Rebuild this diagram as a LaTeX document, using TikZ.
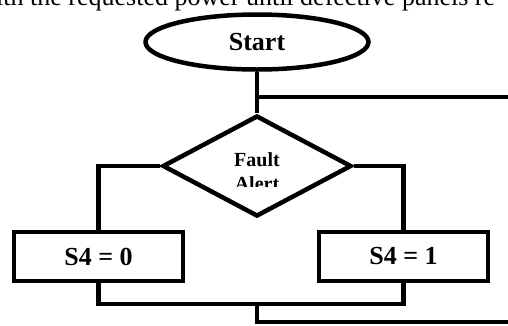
\documentclass[tikz,border=0pt]{standalone}
\usepackage{fontspec}
\setmainfont{Liberation Serif}
\usetikzlibrary{shapes.geometric}
\begin{document}
\begin{tikzpicture}[x=1pt,y=-1pt,
  flow/.style={line width=4.5pt},
  term/.style={ellipse,draw,line width=4.5pt,inner sep=0pt,minimum width=223pt,minimum height=55pt,font=\fontsize{26}{28}\selectfont\bfseries},
  decide/.style={diamond,draw,line width=4.5pt,inner sep=0pt,minimum width=189pt,minimum height=101pt},
  act/.style={rectangle,draw,line width=4.5pt,inner sep=0pt,minimum width=169pt,minimum height=49pt,font=\fontsize{26}{28}\selectfont\bfseries},
  lbl/.style={inner sep=0pt,font=\fontsize{20}{24}\selectfont\bfseries}]
\useasboundingbox (0,0) rectangle (508,325);
\begin{scope}
\clip (0,0) rectangle (508,325);
\node[anchor=base west,inner sep=0pt,font=\fontsize{26}{28}\selectfont] (cap) at (-4,5) {ith the requested power until defective panels re};
\node[term] (start) at (257,42) {Start};
\node[decide] (alert) at (257,166) {};
\begin{scope}
\clip (150,140) rectangle (360,186);
\node[lbl,anchor=base] (fault) at (257,166) {Fault};
\node[lbl,anchor=base] (alerttxt) at (257,190) {Alert};
\end{scope}
\node[act] (s0) at (98.5,256.5) {S4 = 0};
\node[act] (s1) at (403.5,256.5) {S4 = 1};
\coordinate (loopout) at (510,97);
\coordinate (botout) at (510,322);
\draw[flow] (start.south) -- (alert.north);
\draw[flow] (start.south |- loopout) -- (loopout);
\draw[flow] (alert.west) -| (s0.north);
\draw[flow] (alert.east) -| (s1.north);
\draw[flow] (s0.south) |- (257,304) -| (s1.south);
\draw[flow] (257,302) |- (botout);
\end{scope}
\end{tikzpicture}
\end{document}
